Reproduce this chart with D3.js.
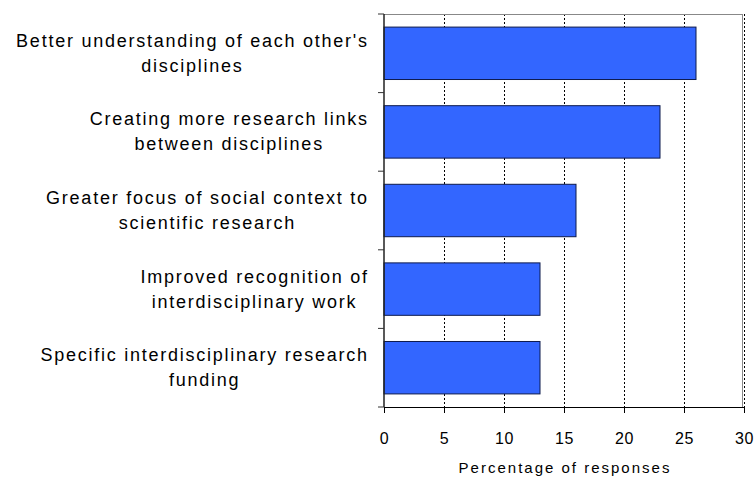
<!DOCTYPE html>
<html>
<head>
<meta charset="utf-8">
<script src="https://cdn.jsdelivr.net/npm/d3@7"></script>
<style>
  html, body { margin: 0; padding: 0; background: #fff; }
  svg { display: block; }
  text { font-family: "Liberation Sans", Arial, sans-serif; fill: #000; }
</style>
</head>
<body>
<svg id="chart" width="755" height="477"></svg>
<script>
const categories = [
  ["Better understanding of each other's", "disciplines"],
  ["Creating more research links", "between disciplines"],
  ["Greater focus of social context to", "scientific research"],
  ["Improved recognition of", "interdisciplinary work"],
  ["Specific interdisciplinary research", "funding"]
];
const values = [26, 23, 16, 13, 13];
const xTicks = [0, 5, 10, 15, 20, 25, 30];
const xTitle = "Percentage of responses";

(function () {
const svg = d3.select("#chart");
const pLeft = 384, pRight = 744, pTop = 14, pBottom = 407;

const x = d3.scaleLinear().domain([0, 30]).range([pLeft, pRight]);
const y = d3.scaleBand().domain(d3.range(categories.length)).range([pTop, pBottom])
  .paddingInner(0.333).paddingOuter(0.1665);

// gridlines
svg.append("g").selectAll("line").data(xTicks.filter(d => d > 0)).join("line")
  .attr("x1", d => x(d)).attr("x2", d => x(d))
  .attr("y1", pTop).attr("y2", pBottom)
  .attr("stroke", "#000").attr("stroke-width", 1)
  .attr("stroke-dasharray", "2,2")
  .attr("shape-rendering", "crispEdges");

// frame top/right (gray)
svg.append("path")
  .attr("d", `M${pLeft},${pTop + 0.5}H${pRight - 1.5}V${pBottom}`)
  .attr("fill", "none").attr("stroke", "#888").attr("stroke-width", 1)
  .attr("shape-rendering", "crispEdges");

// bars
svg.append("g").selectAll("rect").data(values).join("rect")
  .attr("x", x(0)).attr("y", (d, i) => y(i))
  .attr("width", d => x(d) - x(0)).attr("height", y.bandwidth())
  .attr("fill", "#3366FF").attr("stroke", "#0d1a4d").attr("stroke-width", 1);

// x axis
const xAxis = svg.append("g").attr("transform", `translate(0,${pBottom})`)
  .call(d3.axisBottom(x).tickValues(xTicks).tickSize(6).tickSizeOuter(0).tickPadding(20));
xAxis.select(".domain").attr("stroke", "#000");
xAxis.selectAll(".tick line").attr("stroke", "#000");
xAxis.selectAll("text").attr("font-size", "16px").attr("letter-spacing", "0.5px")
  .attr("font-family", "'Liberation Sans', Arial, sans-serif").attr("fill", "#000");

// y axis line and ticks at band boundaries
const bounds = d3.range(categories.length + 1).map(i => pTop + i * (pBottom - pTop) / categories.length);
svg.append("line").attr("x1", pLeft).attr("x2", pLeft).attr("y1", pTop).attr("y2", pBottom)
  .attr("stroke", "#222").attr("stroke-width", 1.5);
svg.append("g").selectAll("line").data(bounds).join("line")
  .attr("x1", pLeft - 6).attr("x2", pLeft).attr("y1", d => d).attr("y2", d => d)
  .attr("stroke", "#333").attr("stroke-width", 1);

// category labels
const labelRight = 367;
const lineGap = 25;
const ls = 1.75;
categories.forEach((lines, i) => {
  const cy = y(i) + y.bandwidth() / 2;
  const g = svg.append("g");
  const texts = lines.map((t, k) => g.append("text")
    .attr("font-size", "18px").attr("letter-spacing", ls + "px")
    .attr("text-anchor", "middle")
    .attr("y", cy + (k - (lines.length - 1) / 2) * lineGap + 6)
    .text(t));
  const widths = texts.map(t => t.node().getComputedTextLength() - ls);
  const maxW = d3.max(widths);
  texts.forEach(t => t.attr("x", labelRight - maxW / 2 + ls / 2));
});

// axis title
svg.append("text").attr("x", (pLeft + pRight) / 2 + 1).attr("y", 473)
  .attr("text-anchor", "middle").attr("font-size", "15px").attr("letter-spacing", "2px")
  .text(xTitle);
})();
</script>
</body>
</html>
